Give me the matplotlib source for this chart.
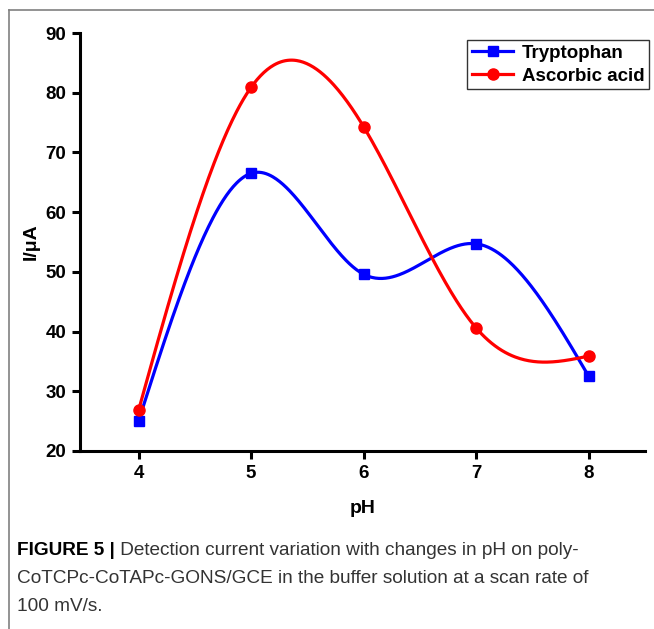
import numpy as np
import matplotlib
matplotlib.use("Agg")
import matplotlib.pyplot as plt
from matplotlib.lines import Line2D

ph = [4, 5, 6, 7, 8]
tryptophan = [25.0, 66.5, 49.6, 54.7, 32.5]
ascorbic = [26.8, 80.9, 74.3, 40.6, 35.9]
yticks = [20, 30, 40, 50, 60, 70, 80, 90]
series_names = ["Tryptophan", "Ascorbic acid"]
caption_bold = "FIGURE 5 |"
caption_lines = [" Detection current variation with changes in pH on poly-",
                 "CoTCPc-CoTAPc-GONS/GCE in the buffer solution at a scan rate of",
                 "100 mV/s."]


def natural_spline(x, y, n=400):
    x = np.asarray(x, float)
    y = np.asarray(y, float)
    m = len(x)
    h = np.diff(x)
    A = np.zeros((m, m))
    b = np.zeros(m)
    A[0, 0] = 1
    A[-1, -1] = 1
    for i in range(1, m - 1):
        A[i, i - 1] = h[i - 1]
        A[i, i] = 2 * (h[i - 1] + h[i])
        A[i, i + 1] = h[i]
        b[i] = 6 * ((y[i + 1] - y[i]) / h[i] - (y[i] - y[i - 1]) / h[i - 1])
    M = np.linalg.solve(A, b)
    xs = np.linspace(x[0], x[-1], n)
    ys = np.empty_like(xs)
    for k, xv in enumerate(xs):
        i = min(np.searchsorted(x, xv, side="right") - 1, m - 2)
        hi = h[i]
        a = (x[i + 1] - xv) / hi
        bb = (xv - x[i]) / hi
        ys[k] = (a * y[i] + bb * y[i + 1]
                 + ((a ** 3 - a) * M[i] + (bb ** 3 - bb) * M[i + 1]) * hi ** 2 / 6)
    return xs, ys


plt.rcParams["font.family"] = ["Liberation Sans", "DejaVu Sans"]

W, H = 654, 629
fig = plt.figure(figsize=(W / 100, H / 100), dpi=100)
ax = fig.add_axes([80 / W, 1 - 451 / H, (645 - 80) / W, (451 - 33) / H])

colors = ["#0000FF", "#FF0000"]
markers = ["s", "o"]
msizes = [6.5, 8]
for vals, c, mk, ms in zip([tryptophan, ascorbic], colors, markers, msizes):
    xs, ys = natural_spline(ph, vals)
    ax.plot(xs, ys, color=c, lw=2.3, zorder=2)
    ax.plot(ph, vals, ls="none", marker=mk, ms=ms, color=c, zorder=3, clip_on=False)

ax.set_xlim(3.48, 8.5)
ax.set_ylim(20, 90)
ax.set_xticks(ph)
ax.set_yticks(yticks)
for s in ["top", "right"]:
    ax.spines[s].set_visible(False)
for s in ["left", "bottom"]:
    ax.spines[s].set_linewidth(2.2)
ax.tick_params(width=2.2, length=6, labelsize=13.5, pad=4)
for lab in ax.get_xticklabels() + ax.get_yticklabels():
    lab.set_fontweight("bold")
ax.set_xlabel("pH", fontsize=14, fontweight="bold", labelpad=13)
ax.set_ylabel("I/μA", fontsize=14, fontweight="bold", labelpad=4)

handles = [Line2D([], [], color=c, lw=2.3, marker=mk, ms=ms)
           for c, mk, ms in zip(colors, markers, msizes)]
leg = ax.legend(handles, series_names, loc="upper right",
                bbox_to_anchor=(649 / W, 1 - 40 / H), bbox_transform=fig.transFigure,
                borderaxespad=0, frameon=True, fancybox=False, handlelength=2.2,
                prop={"weight": "bold", "size": 13.5}, borderpad=0.25,
                labelspacing=0.3, handletextpad=0.45)
leg.get_frame().set_edgecolor("black")
leg.get_frame().set_linewidth(1.0)

# border lines
fig.add_artist(Line2D([9 / W, 1], [1 - 10 / H, 1 - 10 / H], color="#808080", lw=1.2,
                      transform=fig.transFigure))
fig.add_artist(Line2D([9 / W, 9 / W], [0, 1 - 10 / H], color="#808080", lw=1.2,
                      transform=fig.transFigure))

# caption
renderer = fig.canvas.get_renderer()
base_y = [555, 583, 611]
cap_font = ["Liberation Sans", "DejaVu Sans"]
cap_size = 13.7
t1 = fig.text(17 / W, 1 - base_y[0] / H, caption_bold, fontsize=cap_size, fontweight="bold",
              va="baseline", ha="left", color="black", family=cap_font)
bb = t1.get_window_extent(renderer)
fig.text(bb.x1 / W, 1 - base_y[0] / H, caption_lines[0], fontsize=cap_size, va="baseline",
         ha="left", color="#333333", family=cap_font)
for line, yb in zip(caption_lines[1:], base_y[1:]):
    fig.text(17 / W, 1 - yb / H, line, fontsize=cap_size, va="baseline", ha="left",
             color="#333333", family=cap_font)

fig.savefig("out.png", dpi=100)
